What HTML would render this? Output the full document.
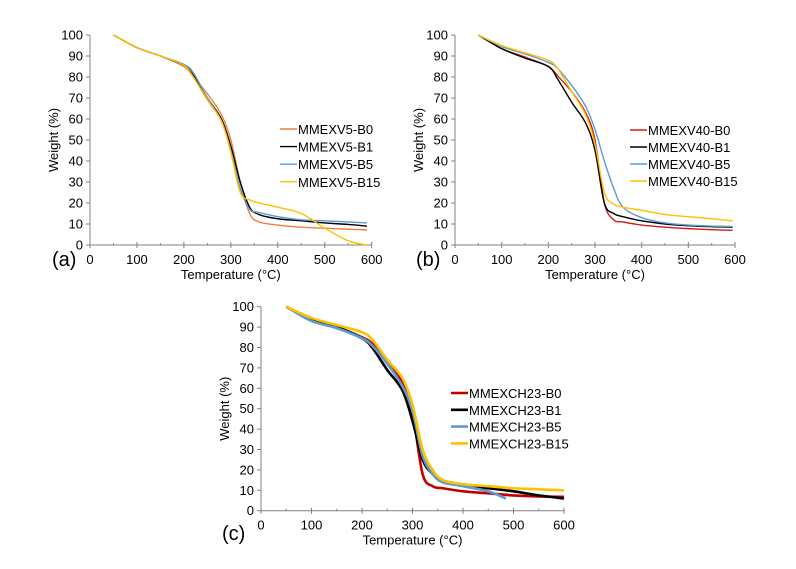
<!DOCTYPE html>
<html><head><meta charset="utf-8"><style>
html,body{margin:0;padding:0;background:#fff;}
svg{display:block;font-family:"Liberation Sans",Arial,sans-serif;}
</style></head><body>
<svg id="svg" width="796" height="569" viewBox="0 0 796 569"></svg>
<script>
const ticksX=[0,100,200,300,400,500,600];
const ticksY=[0,10,20,30,40,50,60,70,80,90,100];
const tA=[50,100,150,200,220,250,280,300,320,340,360,400,450,500,550,590];
const aB0=[100,94,90,85,80,72,62,50,30,15,11,9.5,8.5,8,7.5,7.2];
const aB1=[100,94,90,85.5,81,70,60,47,30,18,14.5,12.5,11.5,10.5,9.8,9];
const aB5=[100,94,90,86,82,70,59,45,27,17,15.5,13.5,12,11.5,11,10.5];
const aB15=[100,94,90,85.5,80,69,59,44,25,21.5,20,18,15,8,2,0];
const tB=[50,100,150,200,220,250,280,300,320,340,360,400,450,500,550,595];
const bB0=[100,93.5,89.5,85,80.5,73,63,50,20,12,11,9.5,8.5,7.8,7.3,7];
const bB1=[100,93.5,89,85,79,68,58,45,20,15,13.5,11.5,10,9.2,8.7,8.5];
const bB5=[100,94.5,91,87,84,76,66,55,40,27,18,13,10.5,9.5,9,8.8];
const bB15=[100,95,91.5,88,84,73,62,48,25,19.5,18,16.5,14.5,13.5,12.5,11.5];
const tC=[50,100,150,200,220,250,280,300,320,340,360,400,450,500,550,600];
const cB0=[100,93.5,90,85,82,74,63,48,18,12,11,9.5,8.5,7.5,7,6.8];
const cB1=[100,93.5,90,84.5,80,69,59,44,25,18,14,12.5,11,9.5,7.5,6];
const tC5=[50,100,150,200,220,250,280,300,320,340,360,400,450,485];
const cB5=[100,93,89.5,84.5,81,72,61,49,27,18,14,12,9.5,6];
const cB15=[100,94.5,91,87.5,84,74,65,52,30,20,15,13,12,11,10.5,10];

const NS="http://www.w3.org/2000/svg";
const svg=document.getElementById('svg');
function el(tag,attrs,parent,text){const e=document.createElementNS(NS,tag);for(const k in attrs)e.setAttribute(k,attrs[k]);if(text!==undefined)e.textContent=text;(parent||svg).appendChild(e);return e;}

function path(pts){let d=`M${pts[0][0]},${pts[0][1]}`;for(let i=0;i<pts.length-1;i++){const p0=pts[Math.max(0,i-1)],p1=pts[i],p2=pts[i+1],p3=pts[Math.min(pts.length-1,i+2)];
const c1=[p1[0]+(p2[0]-p0[0])/6,p1[1]+(p2[1]-p0[1])/6],c2=[p2[0]-(p3[0]-p1[0])/6,p2[1]-(p3[1]-p1[1])/6];
d+=` C${c1[0].toFixed(2)},${c1[1].toFixed(2)} ${c2[0].toFixed(2)},${c2[1].toFixed(2)} ${p2[0].toFixed(2)},${p2[1].toFixed(2)}`;}return d;}

function chart(cfg){
 const g=el('g',{});
 
 
 const X=v=>cfg.x0+(cfg.x1-cfg.x0)*v/600, Y=v=>cfg.y0+(cfg.y1-cfg.y0)*v/100;
 const ax=el('g',{stroke:'#808080','stroke-width':1},g);
 
 el('line',{x1:X(0),y1:Y(0),x2:X(600),y2:Y(0)},ax);
 el('line',{x1:X(0),y1:Y(0),x2:X(0),y2:Y(100)},ax);
 ticksY.forEach(v=>{el('line',{x1:X(0)-4,y1:Y(v),x2:X(0),y2:Y(v)},ax);
  const t=el('text',{x:X(0)-7,y:Y(v)+4.5,'text-anchor':'end','font-size':13,fill:'#000'},g,String(v));
  });
 ticksX.forEach(v=>{el('line',{x1:X(v),y1:Y(0)-3,x2:X(v),y2:Y(0)+3},ax);
  if(v<600)el('line',{x1:X(v+50),y1:Y(0)-2,x2:X(v+50),y2:Y(0)},ax);
  const t=el('text',{x:X(v),y:Y(0)+19,'text-anchor':'middle','font-size':13,fill:'#000'},g,String(v));
  });
 const xt=el('text',{x:(X(0)+X(600))/2,y:Y(0)+34,'text-anchor':'middle','font-size':13,fill:'#000'},g,'Temperature (°C)');
 
 const cy=(Y(0)+Y(100))/2,cx=X(0)-32;
 const yt=el('text',{x:cx,y:cy,'text-anchor':'middle','font-size':13,fill:'#000',transform:`rotate(-90 ${cx} ${cy})`},g,'Weight (%)');
 
 const pl=el('text',{x:cfg.lx,y:cfg.ly,'font-size':20,fill:'#000'},g,cfg.label);
 
 cfg.series.forEach((s,i)=>{
  const pts=s.t.map((t,j)=>[X(t),Y(s.v[j])]);
  const p=el('path',{d:path(pts),fill:'none',stroke:s.c,'stroke-width':cfg.w,'stroke-linejoin':'round'},g);
  
  const ly=cfg.legY+i*cfg.legDy;
  const lg=el('g',{},g);
  
  el('line',{x1:cfg.legX,y1:ly,x2:cfg.legX+17,y2:ly,stroke:s.c,'stroke-width':cfg.w},lg);
  el('text',{x:cfg.legX+18,y:ly+5,'font-size':13,fill:'#000'},lg,s.n);
 });
}
chart({name:'chart-a',x0:90,x1:371.7,y0:245,y1:35,lx:52,ly:266,label:'(a)',w:1.4,legX:280,legY:129,legDy:17.6,series:[
 {n:'MMEXV5-B0',c:'#f07f3c',t:tA,v:aB0},{n:'MMEXV5-B1',c:'#000',t:tA,v:aB1},
 {n:'MMEXV5-B5',c:'#5b9bd5',t:tA,v:aB5},{n:'MMEXV5-B15',c:'#ffc000',t:tA,v:aB15}]});
chart({name:'chart-b',x0:455,x1:735,y0:245,y1:35,lx:416,ly:266,label:'(b)',w:1.4,legX:630,legY:130,legDy:17,series:[
 {n:'MMEXV40-B0',c:'#d01c1c',t:tB,v:bB0},{n:'MMEXV40-B1',c:'#000',t:tB,v:bB1},
 {n:'MMEXV40-B5',c:'#5b9bd5',t:tB,v:bB5},{n:'MMEXV40-B15',c:'#ffc000',t:tB,v:bB15}]});
chart({name:'chart-c',x0:261,x1:564,y0:510.7,y1:306.7,lx:222,ly:540,label:'(c)',w:2.6,legX:451,legY:393,legDy:16.8,series:[
 {n:'MMEXCH23-B0',c:'#c00000',t:tC,v:cB0},{n:'MMEXCH23-B1',c:'#000',t:tC,v:cB1},
 {n:'MMEXCH23-B5',c:'#5b9bd5',t:tC5,v:cB5},{n:'MMEXCH23-B15',c:'#ffc000',t:tC,v:cB15}]});
</script>
</body></html>
